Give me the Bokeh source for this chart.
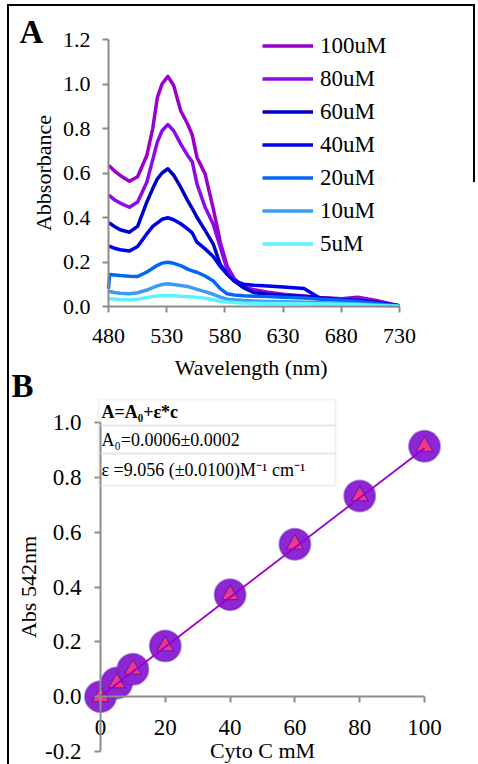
from bokeh.plotting import figure
from bokeh.models import (Range1d, FixedTicker, PrintfTickFormatter, Legend, LegendItem,
                          Label, BoxAnnotation)
from bokeh.layouts import column
from bokeh.embed import file_html
from bokeh.resources import INLINE

# ---------------- data : panel A ----------------
wavelength = [480, 481, 485, 490, 498, 505, 513, 518, 522, 526, 531, 536, 542, 548, 552, 556,
              563, 570, 576, 582, 588, 596, 605, 617, 630, 648, 662, 680, 694, 710, 730]
abs_100uM = [0.634, 0.630, 0.610, 0.589, 0.563, 0.583, 0.680, 0.800, 0.940, 1.000, 1.034, 0.993,
             0.880, 0.820, 0.770, 0.670, 0.596, 0.440, 0.290, 0.180, 0.125, 0.090, 0.075, 0.064,
             0.055, 0.047, 0.040, 0.035, 0.042, 0.027, 0.003]
abs_80uM = [0.499, 0.497, 0.480, 0.465, 0.446, 0.470, 0.560, 0.660, 0.740, 0.790, 0.818, 0.790,
            0.731, 0.679, 0.650, 0.551, 0.446, 0.370, 0.267, 0.165, 0.115, 0.085, 0.070, 0.060,
            0.052, 0.045, 0.038, 0.033, 0.035, 0.022, 0.003]
abs_60uM = [0.376, 0.374, 0.360, 0.345, 0.334, 0.360, 0.470, 0.530, 0.574, 0.600, 0.619, 0.590,
            0.536, 0.476, 0.440, 0.401, 0.342, 0.280, 0.190, 0.145, 0.115, 0.085, 0.062, 0.055,
            0.050, 0.045, 0.038, 0.030, 0.028, 0.018, 0.003]
abs_40uM = [0.271, 0.270, 0.262, 0.255, 0.249, 0.270, 0.327, 0.360, 0.376, 0.392, 0.399, 0.390,
            0.372, 0.349, 0.330, 0.289, 0.259, 0.225, 0.180, 0.145, 0.115, 0.100, 0.095, 0.092,
            0.088, 0.081, 0.036, 0.030, 0.026, 0.015, 0.002]
abs_20uM = [0.080, 0.144, 0.142, 0.139, 0.136, 0.135, 0.155, 0.172, 0.185, 0.195, 0.199, 0.194,
            0.184, 0.168, 0.160, 0.154, 0.137, 0.115, 0.080, 0.057, 0.052, 0.048, 0.046, 0.045,
            0.042, 0.038, 0.033, 0.028, 0.022, 0.013, 0.002]
abs_10uM = [0.067, 0.067, 0.063, 0.060, 0.057, 0.062, 0.074, 0.085, 0.093, 0.099, 0.102, 0.099,
            0.094, 0.090, 0.084, 0.077, 0.067, 0.055, 0.042, 0.033, 0.030, 0.027, 0.025, 0.023,
            0.021, 0.019, 0.017, 0.015, 0.012, 0.007, 0.001]
abs_5uM = [0.035, 0.035, 0.034, 0.032, 0.030, 0.033, 0.040, 0.045, 0.047, 0.048, 0.049, 0.048,
           0.046, 0.044, 0.043, 0.041, 0.037, 0.030, 0.024, 0.020, 0.018, 0.016, 0.015, 0.014,
           0.013, 0.012, 0.011, 0.010, 0.008, 0.005, 0.001]
series_labels = ["100uM", "80uM", "60uM", "40uM", "20uM", "10uM", "5uM"]
series_values = [abs_100uM, abs_80uM, abs_60uM, abs_40uM, abs_20uM, abs_10uM, abs_5uM]
series_colors = ["#9900CC", "#8A0AE8", "#0000C8", "#0000EE", "#0066F5", "#3D9BF5", "#5CF2FF"]
wl_ticks = [480, 530, 580, 630, 680, 730]
absA_ticks = [0.0, 0.2, 0.4, 0.6, 0.8, 1.0, 1.2]

# ---------------- data : panel B ----------------
cyto_c = [0, 5, 10, 20, 40, 60, 80, 100]
abs_542 = [0.0, 0.05, 0.10, 0.185, 0.372, 0.556, 0.732, 0.913]
fit_A0 = 0.0006
fit_slope = 0.009056
conc_ticks = [0, 20, 40, 60, 80, 100]
absB_ticks = [-0.2, 0.0, 0.2, 0.4, 0.6, 0.8, 1.0]

FONT = "Liberation Serif"
GRAY = "#8C8C8C"

W = 478
H1 = 420          # panel A canvas (its transparent lower strip overlaps panel B)
B_TOP = 398       # where panel B's canvas starts on the page
H2 = 764 - B_TOP


def full_range(v0, px0, v1, px1, size, flip=False):
    """Range whose frame fills the canvas, so that value v0 lies at pixel px0, v1 at px1."""
    scale = (v1 - v0) / (px1 - px0)
    if not flip:
        return Range1d(v0 - px0 * scale, v0 + (size - px0) * scale)
    return Range1d(v0 + (size - px0) * scale, v0 - px0 * scale)


def style_axis(ax, label_size="22px"):
    ax.axis_line_color = GRAY
    ax.axis_line_width = 2
    ax.major_tick_line_color = GRAY
    ax.major_tick_line_width = 2
    ax.major_tick_out = 6
    ax.major_tick_in = 0
    ax.minor_tick_line_color = None
    ax.major_label_text_font = FONT
    ax.major_label_text_font_size = label_size
    ax.major_label_text_color = "black"
    ax.axis_label_text_font = FONT
    ax.axis_label_text_font_size = "22px"
    ax.axis_label_text_font_style = "normal"
    ax.axis_label_text_color = "black"


def base_fig(h, xr, yr, **kw):
    p = figure(width=W, height=h, output_backend="svg", toolbar_location=None,
               x_range=xr, y_range=yr, min_border_left=0, min_border_right=0,
               min_border_top=0, min_border_bottom=0, **kw)
    p.border_fill_color = None
    p.background_fill_color = None
    p.outline_line_color = None
    p.grid.visible = False
    return p


# ================= panel A =================
p1 = base_fig(H1, full_range(480, 108, 730, 399, W), full_range(0.0, 306, 1.2, 39, H1, flip=True))

renderers = []
for vals, col in zip(series_values, series_colors):
    r = p1.line(wavelength, vals, line_color=col, line_width=3.5, line_join="round")
    renderers.append(r)

xa = p1.xaxis[0]
ya = p1.yaxis[0]
style_axis(xa)
style_axis(ya)
xa.fixed_location = 0
ya.fixed_location = 480
xa.bounds = (480, 730)
ya.bounds = (0, 1.2)
xa.ticker = FixedTicker(ticks=wl_ticks)
ya.ticker = FixedTicker(ticks=absA_ticks)
ya.formatter = PrintfTickFormatter(format="%.1f")
xa.axis_label = "Wavelength  (nm)"
ya.axis_label = "Abbsorbance"
xa.major_label_standoff = 16
xa.axis_label_standoff = 9
ya.major_label_standoff = 12
ya.axis_label_standoff = 4

legend = Legend(items=[LegendItem(label=l, renderers=[r]) for l, r in zip(series_labels, renderers)],
                location=(262, 138 + (H1 - 398)), label_text_font=FONT, label_text_font_size="23px",
                label_text_color="black",
                glyph_width=51, glyph_height=33, label_height=33, spacing=0, padding=0,
                margin=0, label_standoff=7, border_line_color=None, background_fill_alpha=0)
p1.add_layout(legend)

p1.add_layout(Label(x=19, y=31, x_units="canvas", y_units="canvas", text="A",
                    text_font=FONT, text_font_size="33px", text_font_style="bold",
                    text_color="black", text_baseline="middle", text_align="left"))
p1.add_layout(Label(x=11, y=385, x_units="canvas", y_units="canvas", text="B",
                    text_font=FONT, text_font_size="33px", text_font_style="bold",
                    text_color="black", text_baseline="middle", text_align="left"))

# ================= panel B =================
p2 = base_fig(H2, full_range(0, 100, 100, 424, W),
              full_range(-0.2, 751 - B_TOP, 1.0, 422 - B_TOP, H2, flip=True),
              margin=(B_TOP - H1, 0, 0, 0))

bx = p2.xaxis[0]
by = p2.yaxis[0]
style_axis(bx, "23px")
style_axis(by, "23px")
bx.fixed_location = 0
by.fixed_location = 0
bx.bounds = (0, 100)
by.bounds = (-0.2, 1.0)
bx.ticker = FixedTicker(ticks=conc_ticks)
by.ticker = FixedTicker(ticks=absB_ticks)
by.formatter = PrintfTickFormatter(format="%.1f")
bx.axis_label = "Cyto C mM"
by.axis_label = "Abs 542nm"
bx.major_label_standoff = 17
bx.axis_label_standoff = 0
by.major_label_standoff = 13
by.axis_label_standoff = 1

p2.scatter(cyto_c, abs_542, size=31, marker="circle", fill_color="#8E26D6",
           line_color="#6A1FB8", line_alpha=0.5, line_width=2)
p2.scatter(cyto_c, abs_542, size=17, marker="triangle", fill_color="#EE3A86",
           line_color="#7A1AA8", line_width=1.2)
fit_x = [min(cyto_c), max(cyto_c)]
fit_y = [fit_A0 + fit_slope * c for c in fit_x]
p2.line(fit_x, fit_y, line_color="#9900CC", line_width=1.8)

# equation table
rows = [(1, 27), (27, 55), (55, 87)]
for top, bottom in rows:
    p2.add_layout(BoxAnnotation(left=98, right=335, top=top, bottom=bottom,
                                left_units="canvas", right_units="canvas",
                                top_units="canvas", bottom_units="canvas",
                                fill_alpha=0, line_color="#D2D2D2", line_width=2))
table_texts = ["A=A₀+ε*c", "A₀=0.0006±0.0002", "ε =9.056 (±0.0100)M⁻¹ cm⁻¹"]
table_ys = [13, 41, 71]
table_styles = ["bold", "normal", "normal"]
for t, yy, st in zip(table_texts, table_ys, table_styles):
    p2.add_layout(Label(x=101, y=yy, x_units="canvas", y_units="canvas", text=t,
                        text_font=FONT, text_font_size="18px", text_font_style=st,
                        text_color="black", text_baseline="middle", text_align="left"))

layout = column(p1, p2, spacing=0, styles={
    "background-image": "linear-gradient(#000,#000), linear-gradient(#000,#000), linear-gradient(#000,#000)",
    "background-position": "7px 4px, 7px 4px, 473px 4px",
    "background-size": "2px 760px, 468px 2px, 2px 178px",
    "background-repeat": "no-repeat",
})

open("out.html", "w").write(file_html(layout, INLINE))
